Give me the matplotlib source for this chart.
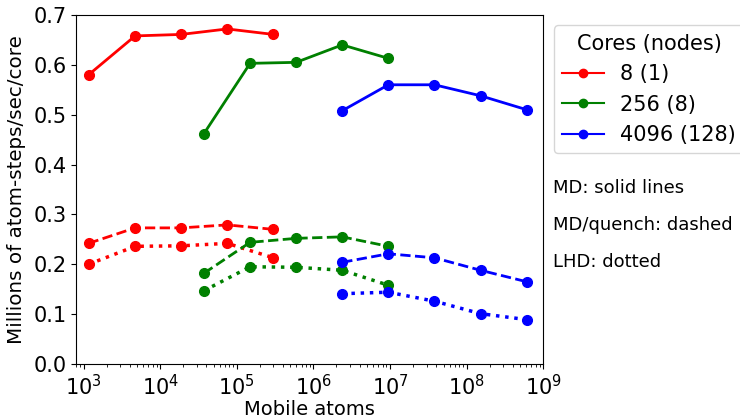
import matplotlib.pyplot as plt
from matplotlib.lines import Line2D

plt.rcParams['font.family'] = ['DejaVu Sans']

# mobile atoms per series (cores / nodes)
x_8 = [1.16e3, 4.7e3, 1.88e4, 7.5e4, 3.0e5]
x_256 = [3.72e4, 1.49e5, 5.95e5, 2.38e6, 9.52e6]
x_4096 = [2.38e6, 9.52e6, 3.81e7, 1.52e8, 6.09e8]

# millions of atom-steps/sec/core
md_8 = [0.580, 0.658, 0.661, 0.672, 0.661]
quench_8 = [0.242, 0.273, 0.273, 0.279, 0.270]
lhd_8 = [0.200, 0.236, 0.237, 0.242, 0.213]

md_256 = [0.462, 0.603, 0.605, 0.640, 0.613]
quench_256 = [0.182, 0.244, 0.252, 0.255, 0.236]
lhd_256 = [0.147, 0.195, 0.194, 0.188, 0.158]

md_4096 = [0.508, 0.560, 0.560, 0.538, 0.510]
quench_4096 = [0.204, 0.221, 0.213, 0.188, 0.165]
lhd_4096 = [0.141, 0.144, 0.126, 0.101, 0.089]

labels = ['8 (1)', '256 (8)', '4096 (128)']
colors = ['red', 'green', 'blue']
notes = ['MD: solid lines', 'MD/quench: dashed', 'LHD: dotted']


def draw(ax):
    series = [
        (x_8, md_8, quench_8, lhd_8),
        (x_256, md_256, quench_256, lhd_256),
        (x_4096, md_4096, quench_4096, lhd_4096),
    ]
    for (x, md, qu, lh), c in zip(series, colors):
        ax.plot(x, md, color=c, ls='-', lw=2, marker='o', ms=7)
        ax.plot(x, qu, color=c, ls='--', lw=2, marker='o', ms=7)
        ax.plot(x, lh, color=c, ls=':', lw=2.5, marker='o', ms=7)

    ax.set_xscale('log')
    ax.set_xlim(8.0e2, 1e9)
    ax.set_ylim(0, 0.7)
    ax.set_xlabel('Mobile atoms', fontsize=14, labelpad=0.5)
    ax.set_ylabel('Millions of atom-steps/sec/core', fontsize=14.3, labelpad=5)
    ax.tick_params(labelsize=15)

    handles = [Line2D([], [], color=c, lw=1.5, marker='o', ms=6) for c in colors]
    leg = ax.legend(handles, labels, title='Cores (nodes)', fontsize=15,
                    title_fontsize=15, loc='upper left', bbox_to_anchor=(1.0, 1.0),
                    labelspacing=0.5)
    leg.get_frame().set_edgecolor('#cccccc')


def main():
    fig = plt.figure(figsize=(7.4, 4.16), dpi=100)
    ax = fig.add_subplot(111)
    fig.subplots_adjust(left=0.103, right=0.734, top=0.964, bottom=0.125)
    draw(ax)
    for note, y in zip(notes, [0.548, 0.459, 0.370]):
        fig.text(0.747, y, note, fontsize=13, va='center', ha='left')
    fig.savefig('out.png', dpi=100)


if __name__ == '__main__':
    main()
